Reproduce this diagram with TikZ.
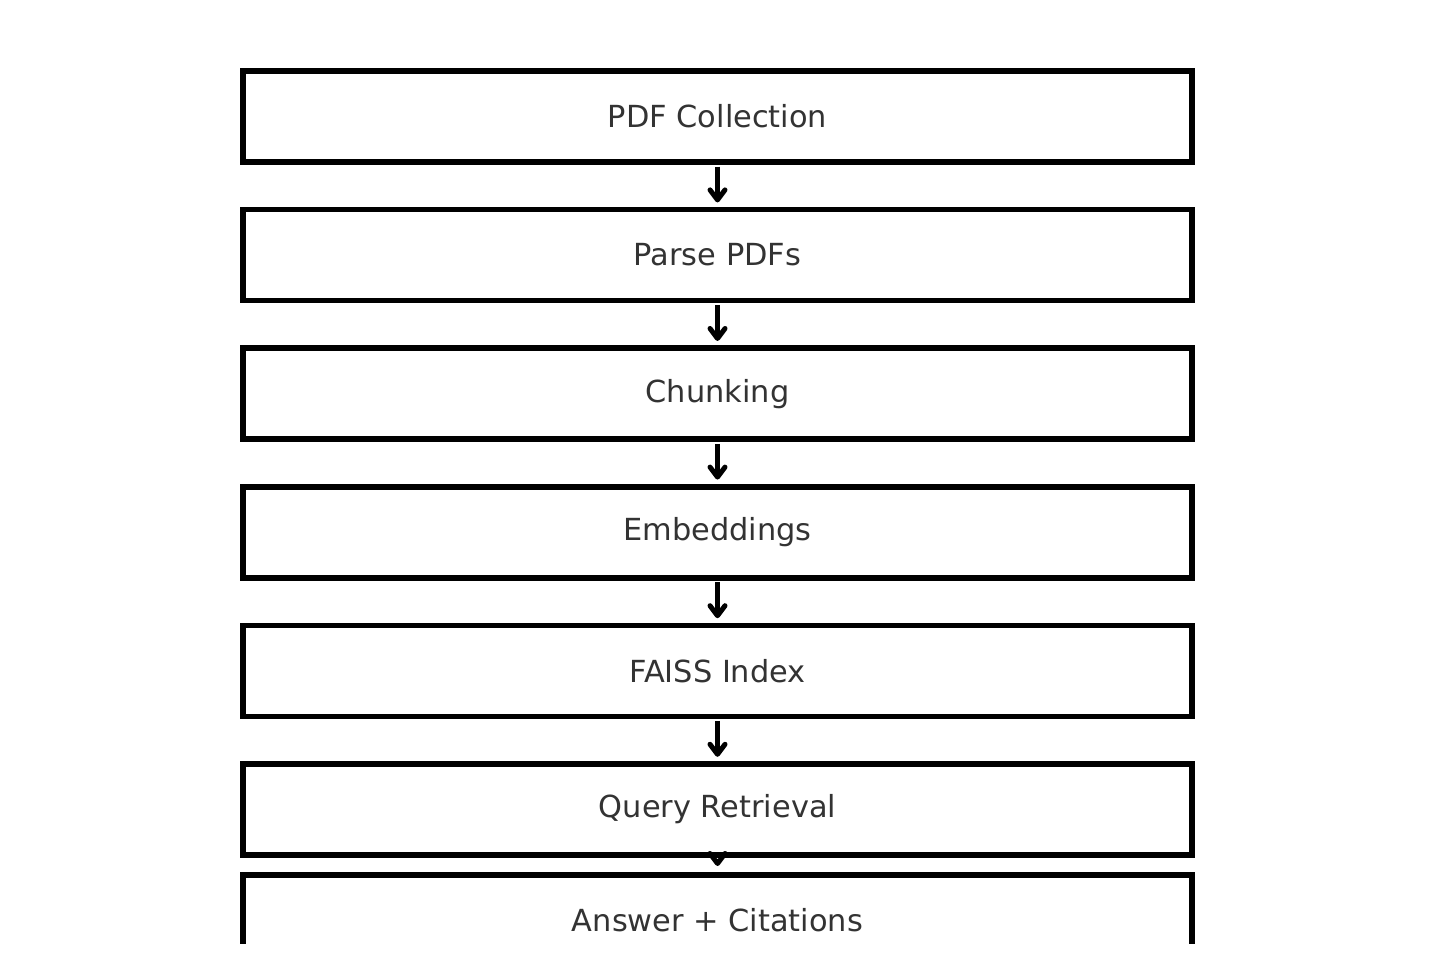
\documentclass[tikz,border=0pt]{standalone}
\usepackage{fontspec}
\setmainfont{DejaVu Sans}
\usetikzlibrary{positioning,arrows.meta}
\definecolor{textgrey}{HTML}{333333}

\begin{document}
\begin{tikzpicture}[
  font=\fontsize{15.2pt}{18pt}\selectfont,
  node distance=23.8pt,
  stage/.style={draw=black,line width=2.75pt,fill=white,minimum width=474.5pt,minimum height=45.5pt,inner sep=0pt,outer sep=0pt,text=textgrey},
  flow/.style={-{Straight Barb[length=5pt,width=7.5pt,round]},line width=2.5pt,shorten <=2.3pt,shorten >=3.6pt}
]
\useasboundingbox (0,0) rectangle (717pt,482pt);
\begin{scope}
\clip (0,10.5pt) rectangle (717pt,482pt);
\node[stage] (pdfs) at (358.75pt,423.75pt) {PDF Collection};
\node[stage,below=of pdfs] (parse) {Parse PDFs};
\node[stage,below=of parse] (chunk) {Chunking};
\node[stage,below=of chunk] (embed) {Embeddings};
\node[stage,below=of embed] (faiss) {FAISS Index};
\node[stage,below=of faiss] (query) {Query Retrieval};
\node[stage,below=10pt of query] (answer) {Answer + Citations};

\draw[flow] (pdfs) -- (parse);
\draw[flow] (parse) -- (chunk);
\draw[flow] (chunk) -- (embed);
\draw[flow] (embed) -- (faiss);
\draw[flow] (faiss) -- (query);
\draw[flow,shorten >=4.5pt] (query) -- (answer);
\end{scope}
\end{tikzpicture}
\end{document}
